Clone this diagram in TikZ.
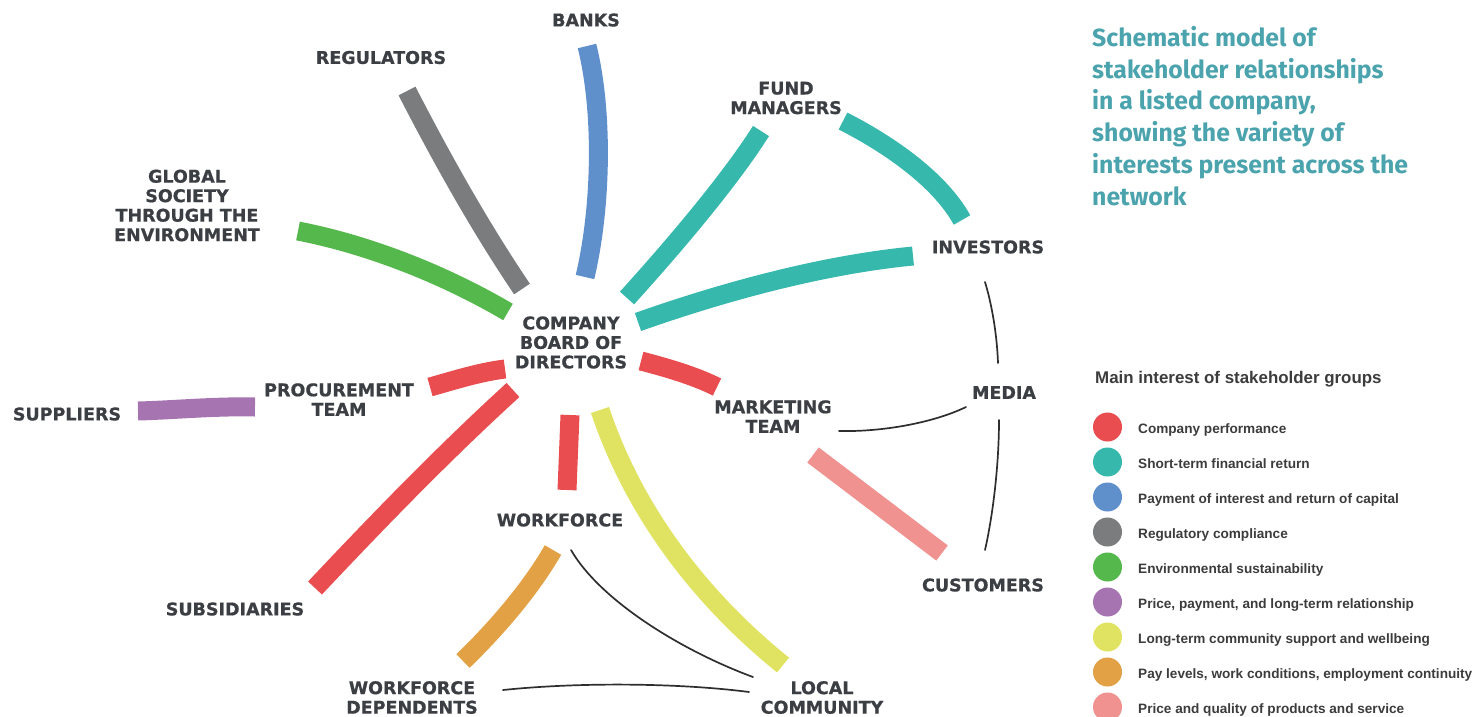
\documentclass[tikz,border=0pt]{standalone}
\usepackage{fontspec}
\newfontfamily\labelfont{DejaVu Sans}[BoldFeatures={FakeBold=0.7}]
\newfontfamily\legendfont{Liberation Sans}
\newfontfamily\titlefont{Fira Sans}

\definecolor{cRed}{HTML}{E94D50}
\definecolor{cTeal}{HTML}{37B8AD}
\definecolor{cBlue}{HTML}{6090CC}
\definecolor{cGray}{HTML}{7B7C7E}
\definecolor{cGreen}{HTML}{55B84C}
\definecolor{cPurple}{HTML}{A774B2}
\definecolor{cYellow}{HTML}{E0E361}
\definecolor{cOrange}{HTML}{E3A146}
\definecolor{cPink}{HTML}{EF9290}
\definecolor{labelgray}{HTML}{3B3E42}
\definecolor{titleteal}{HTML}{4BA3AD}
\definecolor{legendtext}{HTML}{3C3C3C}
\definecolor{tiegray}{HTML}{2E2E2E}

\tikzset{
  lbl/.style={font=\labelfont\bfseries\fontsize{17.5}{19.5}\selectfont,
    text=labelgray, align=center, inner sep=0pt},
  band/.style={line width=19pt, line cap=butt},
  tie/.style={line width=1.7pt, draw=tiegray, line cap=round},
  legdot/.style={circle, inner sep=0pt, minimum size=29pt},
  legtxt/.style={anchor=base west, inner sep=0pt, text=legendtext,
    font=\legendfont\bfseries\fontsize{13.6}{16}\selectfont}
}

\begin{document}
\begin{tikzpicture}[x=1pt, y=-1pt]
\useasboundingbox (0,0) rectangle (1479,716);

% ---- stakeholder labels ----
\node[lbl] (banks) at (586,20) {BANKS};
\node[lbl] (regulators) at (381,57.5) {REGULATORS};
\node[lbl] (fund) at (786,98) {FUND\\MANAGERS};
\node[lbl] (global) at (187,205.5) {GLOBAL\\SOCIETY\\THROUGH THE\\ENVIRONMENT};
\node[lbl] (investors) at (988,247) {INVESTORS};
\node[lbl] (board) at (571,342.5) {COMPANY\\BOARD OF\\DIRECTORS};
\node[lbl] (procurement) at (339,399.5) {PROCUREMENT\\TEAM};
\node[lbl] (suppliers) at (67,414) {SUPPLIERS};
\node[lbl] (marketing) at (773,416.5) {MARKETING\\TEAM};
\node[lbl] (media) at (1004,392.5) {MEDIA};
\node[lbl] (workforce) at (560,520) {WORKFORCE};
\node[lbl] (customers) at (983,585) {CUSTOMERS};
\node[lbl] (subsidiaries) at (235,609) {SUBSIDIARIES};
\node[lbl] (dependents) at (412,697.5) {WORKFORCE\\DEPENDENTS};
\node[lbl] (local) at (822,697.5) {LOCAL\\COMMUNITY};

% ---- band end points ----
\coordinate (bk1) at (587,46);   \coordinate (bk2) at (585,277);
\coordinate (rg1) at (407,91);   \coordinate (rg2) at (522,289);
\coordinate (gr1) at (298,231);  \coordinate (gr2) at (508,312);
\coordinate (fb1) at (761,131);  \coordinate (fb2) at (627,298);
\coordinate (fi1) at (843,121);  \coordinate (fi2) at (962,220);
\coordinate (ib1) at (913,256);  \coordinate (ib2) at (638,322);
\coordinate (mk1) at (641,361);  \coordinate (mk2) at (717,387);
\coordinate (pc1) at (505,369);  \coordinate (pc2) at (430,387);
\coordinate (sb1) at (513,390);  \coordinate (sb2) at (315,588);
\coordinate (wf1) at (570,415);  \coordinate (wf2) at (567,490);
\coordinate (yl1) at (600,410);  \coordinate (yl2) at (783,665);
\coordinate (or1) at (553,550);  \coordinate (or2) at (463,661);
\coordinate (pk1) at (813,455);  \coordinate (pk2) at (942,553);
\coordinate (pu1) at (255,407);  \coordinate (pu2) at (138,411);

% ---- interest bands ----
\draw[band, cBlue]   (bk1) .. controls (603,110) and (602,205) .. (bk2);
\draw[band, cGray]   (rg1) .. controls (441,157) and (480,227) .. (rg2);
\draw[band, cGreen]  (gr1) .. controls (370,245) and (445,275) .. (gr2);
\draw[band, cTeal]   (fb1) .. controls (730,180) and (675,245) .. (fb2);
\draw[band, cTeal]   (fi1) .. controls (890,145) and (940,180) .. (fi2);
\draw[band, cTeal]   (ib1) .. controls (820,265) and (720,293) .. (ib2);
\draw[band, cRed]    (mk1) .. controls (668,368) and (695,376) .. (mk2);
\draw[band, cRed]    (pc1) .. controls (480,372) and (455,380) .. (pc2);
\draw[band, cRed]    (sb1) .. controls (445,452) and (379,520) .. (sb2);
\draw[band, cRed]    (wf1) -- (wf2);
\draw[band, cYellow] (yl1) .. controls (630,500) and (690,590) .. (yl2);
\draw[band, cOrange] (or1) .. controls (530,590) and (495,630) .. (or2);
\draw[band, cPink]   (pk1) -- (pk2);
\draw[band, cPurple] (pu1) .. controls (215,406) and (175,410) .. (pu2);

% ---- secondary ties ----
\coordinate (im1) at (985,282);  \coordinate (im2) at (998,363);
\coordinate (mm1) at (966,407);  \coordinate (mm2) at (839,431);
\coordinate (mc1) at (999,420);  \coordinate (mc2) at (985,550);
\coordinate (wl1) at (571,550);  \coordinate (wl2) at (753,677);
\coordinate (dl1) at (503,690);  \coordinate (dl2) at (749,692);
\draw[tie] (im1) .. controls (992,305) and (997,335) .. (im2);
\draw[tie] (mm1) .. controls (935,422) and (885,432) .. (mm2);
\draw[tie] (mc1) .. controls (999,460) and (994,510) .. (mc2);
\draw[tie] (wl1) .. controls (600,600) and (680,650) .. (wl2);
\draw[tie] (dl1) .. controls (580,682) and (680,683) .. (dl2);

% ---- title ----
\node[anchor=north west, align=left, inner sep=0pt, text=titleteal,
  font=\titlefont\bfseries\fontsize{24.8}{31.8}\selectfont] (title) at (1092,26)
  {Schematic model of\\stakeholder relationships\\in a listed company,\\showing the variety of\\interests present across the\\network};

% ---- legend ----
\node[anchor=base west, inner sep=0pt, text=legendtext,
  font=\legendfont\bfseries\fontsize{16.9}{19}\selectfont] (legtitle) at (1095,383)
  {Main interest of stakeholder groups};
\node[legdot, fill=cRed]    (d1) at (1107.5,427) {};
\node[legdot, fill=cTeal]   (d2) at (1107.5,462) {};
\node[legdot, fill=cBlue]   (d3) at (1107.5,497) {};
\node[legdot, fill=cGray]   (d4) at (1107.5,532) {};
\node[legdot, fill=cGreen]  (d5) at (1107.5,567) {};
\node[legdot, fill=cPurple] (d6) at (1107.5,602) {};
\node[legdot, fill=cYellow] (d7) at (1107.5,637) {};
\node[legdot, fill=cOrange] (d8) at (1107.5,672) {};
\node[legdot, fill=cPink]   (d9) at (1107.5,707) {};
\node[legtxt] (t1) at (1138,433) {Company performance};
\node[legtxt] (t2) at (1138,468) {Short-term financial return};
\node[legtxt] (t3) at (1138,503) {Payment of interest and return of capital};
\node[legtxt] (t4) at (1138,538) {Regulatory compliance};
\node[legtxt] (t5) at (1138,573) {Environmental sustainability};
\node[legtxt] (t6) at (1138,608) {Price, payment, and long-term relationship};
\node[legtxt] (t7) at (1138,643) {Long-term community support and wellbeing};
\node[legtxt] (t8) at (1138,678) {Pay levels, work conditions, employment continuity};
\node[legtxt] (t9) at (1138,713) {Price and quality of products and service};
\end{tikzpicture}
\end{document}
